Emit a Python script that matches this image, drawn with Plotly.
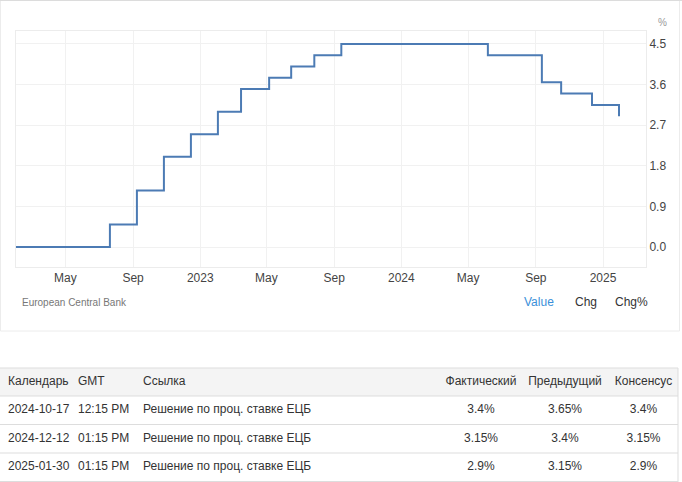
import plotly.graph_objects as go

# ECB rate decisions (announcement dates) and resulting rate, %
dates = ["2022-01-31", "2022-07-21", "2022-09-08", "2022-10-27", "2022-12-15",
         "2023-02-02", "2023-03-16", "2023-05-06", "2023-06-15", "2023-07-27",
         "2023-09-14", "2024-06-06", "2024-09-12", "2024-10-17", "2024-12-12",
         "2025-01-30"]
rates = [0.0, 0.5, 1.25, 2.0, 2.5, 3.0, 3.5, 3.75, 4.0, 4.25, 4.5, 4.25,
         3.65, 3.4, 3.15, 2.9]

x_tickvals = ["2022-05-01", "2022-09-01", "2023-01-01", "2023-05-01", "2023-09-01",
              "2024-01-01", "2024-05-01", "2024-09-01", "2025-01-01"]
x_ticktext = ["May", "Sep", "2023", "May", "Sep", "2024", "May", "Sep", "2025"]
y_tickvals = [0.0, 0.9, 1.8, 2.7, 3.6, 4.5]

tab_header = ["Календарь", "GMT", "Ссылка", "Фактический", "Предыдущий", "Консенсус"]
tab_date = ["2024-10-17", "2024-12-12", "2025-01-30"]
tab_time = ["12:15 PM", "01:15 PM", "01:15 PM"]
tab_event = ["Решение по проц. ставке ЕЦБ"] * 3
tab_actual = ["3.4%", "3.15%", "2.9%"]
tab_previous = ["3.65%", "3.4%", "3.15%"]
tab_consensus = ["3.4%", "3.15%", "2.9%"]

W, H = 682, 482
FONT = "Liberation Sans, Arial, sans-serif"


def px(x):
    return x / W


def py(y):
    return 1 - y / H


def nb(vals):
    # keep cell text on one line
    return [v.replace(" ", "\u00a0") for v in vals]


fig = go.Figure()

fig.add_trace(go.Scatter(x=dates, y=rates, mode="lines", line=dict(shape="hv", color="#4c7bb4", width=2),
                         showlegend=False, hoverinfo="x+y"))

# table
head_h, row_h, tab_top = 28, 28.5, 368
fig.add_trace(go.Table(
    domain=dict(x=[0, px(678)], y=[0, py(tab_top)]),
    columnwidth=[70, 65, 306, 80, 88, 69],
    header=dict(values=tab_header, height=head_h, fill_color="#f4f4f4",
                line=dict(color="rgba(0,0,0,0)", width=0),
                align=["left", "left", "left", "center", "center", "center"],
                font=dict(family=FONT, size=12, color="#333333")),
    cells=dict(values=[tab_date, nb(tab_time), nb(tab_event), tab_actual, tab_previous, tab_consensus],
               height=row_h, fill_color="white",
               line=dict(color="rgba(0,0,0,0)", width=0),
               align=["left", "left", "left", "center", "center", "center"],
               font=dict(family=FONT, size=12, color="#333333")),
))

shapes = []
# card around the chart
shapes.append(dict(type="rect", xref="paper", yref="paper", x0=px(0.5), x1=px(679.5), y0=py(331), y1=py(0.5),
                   line=dict(color="#ececec", width=1), layer="below"))
shapes.append(dict(type="line", xref="paper", yref="paper", x0=0, x1=1, y0=py(0.5), y1=py(0.5),
                   line=dict(color="#dcdcdc", width=1)))
# table row borders
ys = [tab_top, tab_top + head_h] + [tab_top + head_h + row_h * (i + 1) for i in range(len(tab_date))]
for y in ys:
    shapes.append(dict(type="line", xref="paper", yref="paper", x0=0, x1=px(678), y0=py(y), y1=py(y),
                       line=dict(color="#dddddd", width=1)))
shapes.append(dict(type="line", xref="paper", yref="paper", x0=px(678), x1=px(678), y0=0, y1=py(tab_top),
                   line=dict(color="#dddddd", width=1)))

annotations = [
    dict(text="%", x=px(662), y=py(15), xanchor="center", xref="paper", yref="paper", showarrow=False,
         font=dict(family=FONT, size=10, color="#999999")),
    dict(text="European Central Bank", x=px(20), y=py(302), xref="paper", yref="paper", showarrow=False,
         xanchor="left", font=dict(family=FONT, size=10, color="#777777")),
    dict(text="Value", x=px(539), y=py(302), xanchor="center", xref="paper", yref="paper", showarrow=False,
         font=dict(family=FONT, size=12, color="#3a8fd9")),
    dict(text="Chg", x=px(586), y=py(302), xanchor="center", xref="paper", yref="paper", showarrow=False,
         font=dict(family=FONT, size=12, color="#333333")),
    dict(text="Chg%", x=px(631), y=py(302), xanchor="center", xref="paper", yref="paper", showarrow=False,
         font=dict(family=FONT, size=12, color="#333333")),
]

fig.update_layout(
    width=W, height=H,
    margin=dict(l=0, r=0, t=0, b=0),
    paper_bgcolor="white", plot_bgcolor="white",
    font=dict(family=FONT, size=12, color="#444444"),
    shapes=shapes, annotations=annotations,
    xaxis=dict(domain=[px(15.7), px(646)], range=["2022-01-31", "2025-03-20"], type="date",
               tickvals=x_tickvals, ticktext=x_ticktext, showgrid=True, gridcolor="#f1f1f1",
               showline=True, linecolor="#ececec", mirror=True, zeroline=False, ticks="",
               tickfont=dict(size=12, color="#444444")),
    yaxis=dict(domain=[py(267), py(31)], range=[-0.443, 4.788], side="right",
               tickvals=y_tickvals, tickformat=".1f", showgrid=True, gridcolor="#f1f1f1",
               showline=True, linecolor="#ececec", mirror=True, zeroline=False, ticks="",
               tickfont=dict(size=12, color="#444444")),
)

fig.write_html("out.html", config={"displayModeBar": False},
               post_script="document.body.style.margin='0';")
